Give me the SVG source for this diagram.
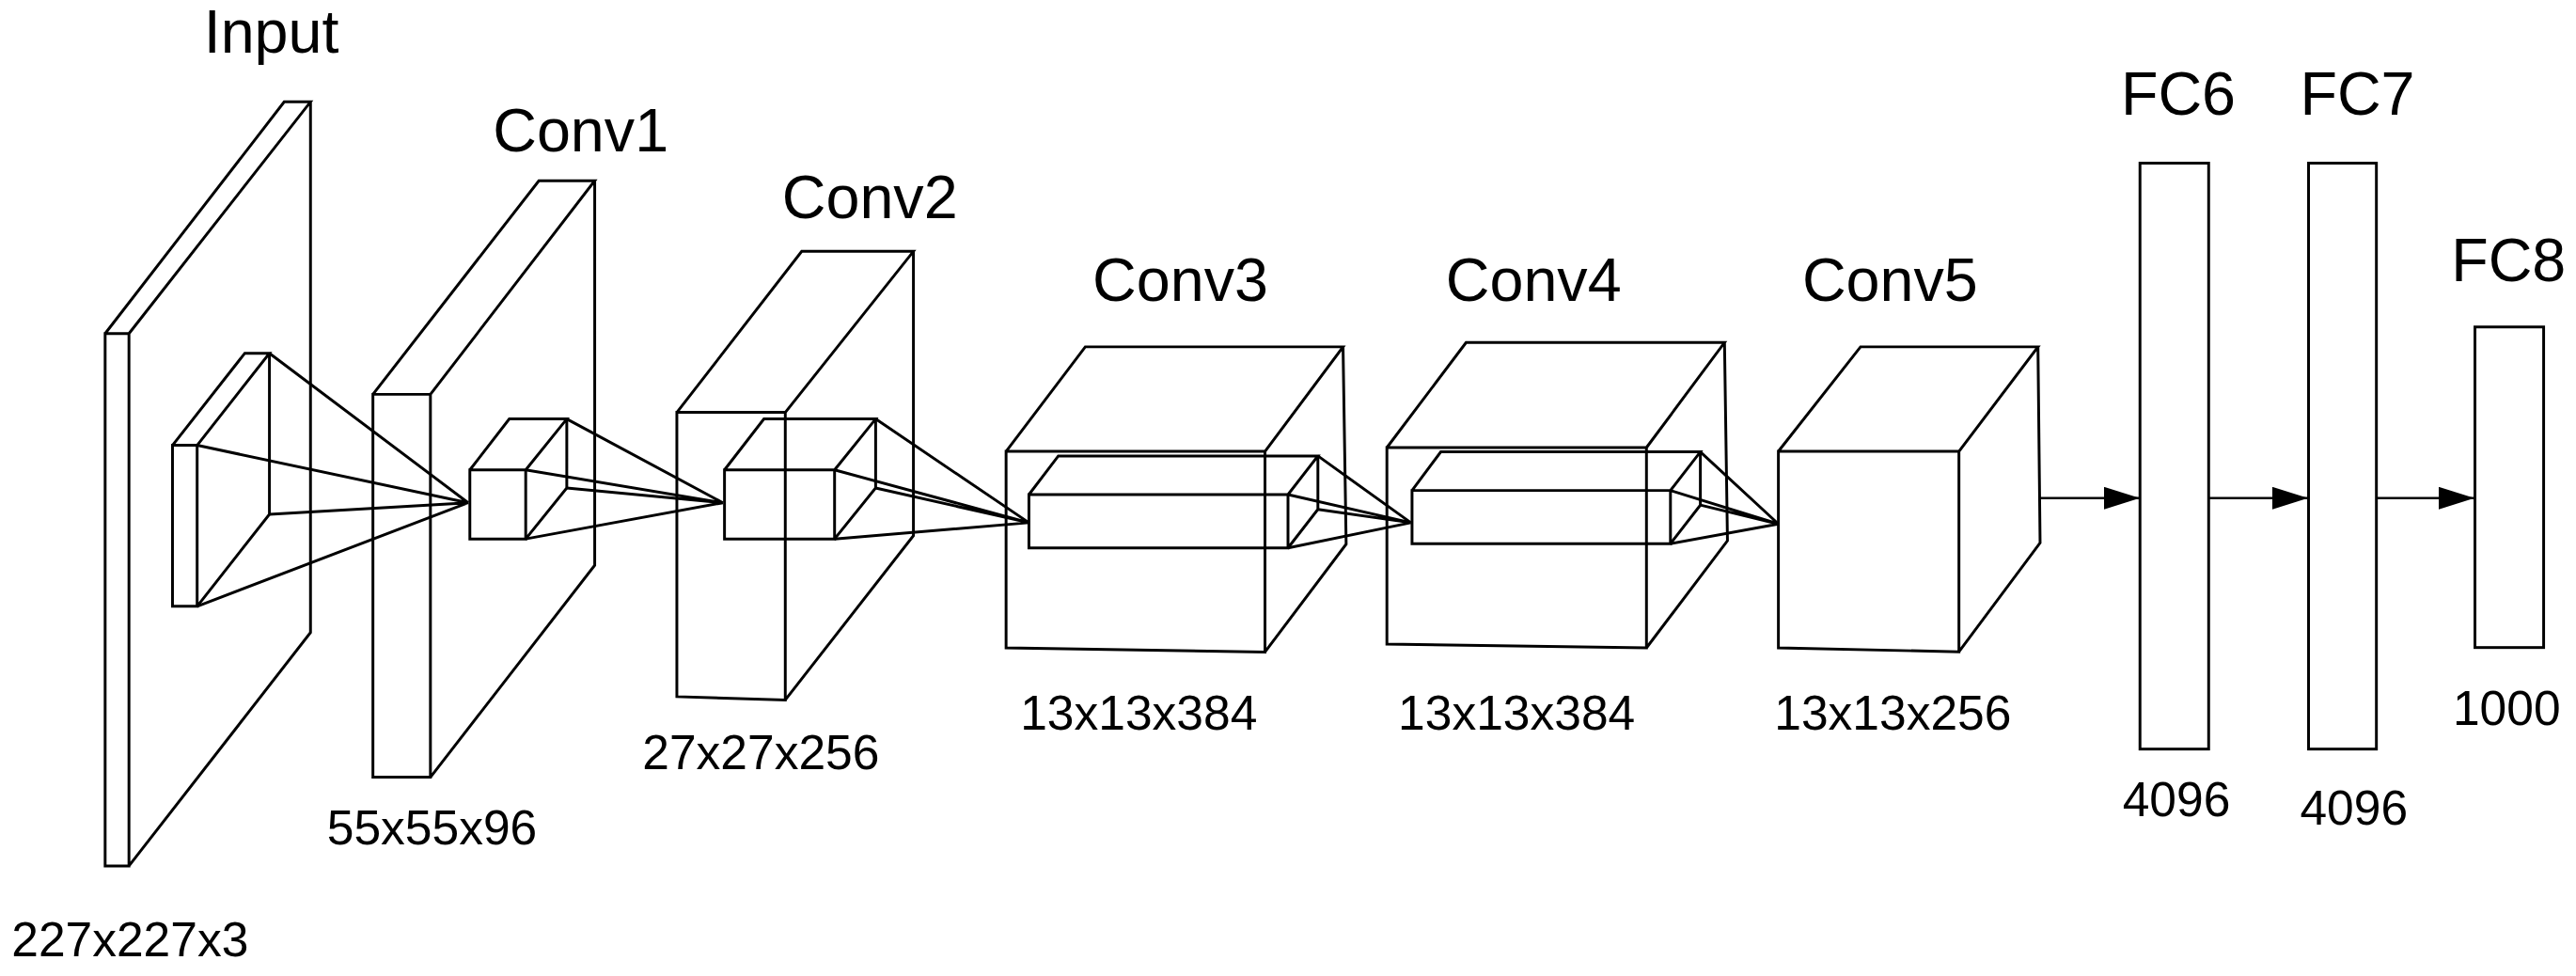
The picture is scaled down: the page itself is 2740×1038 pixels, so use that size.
<svg xmlns="http://www.w3.org/2000/svg" width="2740" height="1038" viewBox="0 0 2740 1038">
<style>
.s{fill:none;stroke:#000;stroke-width:1.7;stroke-linejoin:miter}
.t{font-family:"Liberation Sans",Arial,sans-serif;fill:#000}
.h{font-size:37px}
.d{font-size:29.5px}
.a{fill:none;stroke:#000;stroke-width:2.4}
</style>
<defs><marker id="ah" markerWidth="38" markerHeight="24" refX="38" refY="12" orient="auto" markerUnits="userSpaceOnUse"><path d="M0,0 L38,12 L0,24 Z" fill="#000"/></marker></defs>
<rect width="2740" height="1038" fill="#fff"/>
<g transform="scale(1.74745)">
<g id="input">
<path class="s" d="M64,203 H78.5 V527 H64 Z M64,203 L173,62 H189 L78.5,203 M189,62 V385 L78.5,527"/>
<path class="s" d="M105,271 H120 V369 H105 Z M105,271 L149,215 H164 L120,271 M164,215 V313 L120,369"/>
<text class="t h" x="124" y="32">Input</text>
<text class="t d" x="7" y="582">227x227x3</text>
</g>
<g id="conv1">
<path class="s" d="M227,240 H262 V473 H227 Z M227,240 L328,110 H362 L262,240 M362,110 V344 L262,473"/>
<path class="s" d="M286,286 H320 V328 H286 Z M286,286 L310,255 H345 L320,286 M345,255 V297 L320,328"/>
<text class="t h" x="300" y="92">Conv1</text>
<text class="t d" x="199" y="514">55x55x96</text>
</g>
<g id="conv2">
<path class="s" d="M412,251 H478 V426 L412,424 Z M412,251 L488,153 H556 L478,251 M556,153 V326 L478,426"/>
<path class="s" d="M441,286 H508 V328 H441 Z M441,286 L465,255 H533 L508,286 M533,255 V297 L508,328"/>
<text class="t h" x="476" y="133">Conv2</text>
<text class="t d" x="391" y="468">27x27x256</text>
</g>
<g id="conv3">
<path class="s" d="M612.4,274.7 H770 V396.8 L612.4,394.3 Z M612.4,274.7 L660.6,211.1 H817.5 L770,274.7 M817.5,211.1 L819.4,331.2 L770,396.8"/>
<path class="s" d="M626.3,301 H784 V333.5 H626.3 Z M626.3,301 L644.2,277.5 H802.2 L784,301 M802.2,277.5 V310 L784,333.5"/>
<text class="t h" x="665" y="183">Conv3</text>
<text class="t d" x="621" y="444">13x13x384</text>
</g>
<g id="conv4">
<path class="s" d="M844.2,272.4 H1002.2 V394.3 L844.2,392 Z M844.2,272.4 L892.4,208.5 H1049.7 L1002.2,272.4 M1049.7,208.5 L1051.5,329.1 L1002.2,394.3"/>
<path class="s" d="M859.5,298.5 H1016.8 V330.9 H859.5 Z M859.5,298.5 L877,275 H1035 L1016.8,298.5 M1035,275 V307.4 L1016.8,330.9"/>
<text class="t h" x="880" y="183">Conv4</text>
<text class="t d" x="851" y="444">13x13x384</text>
</g>
<g id="conv5">
<path class="s" d="M1082.5,274.7 H1192.4 V396.7 L1082.5,394.3 Z M1082.5,274.7 L1132.5,211.1 H1240.5 L1192.4,274.7 M1240.5,211.1 L1241.8,330.4 L1192.4,396.7"/>
<text class="t h" x="1097" y="183">Conv5</text>
<text class="t d" x="1080" y="444">13x13x256</text>
</g>
<g id="fc6">
<rect class="s" x="1302.6" y="99.3" width="41.8" height="356.6"/>
<text class="t h" x="1291" y="70">FC6</text>
<text class="t d" x="1292" y="497">4096</text>
</g>
<g id="fc7">
<rect class="s" x="1405.2" y="99.3" width="41.3" height="356.6"/>
<text class="t h" x="1400" y="70">FC7</text>
<text class="t d" x="1400" y="502">4096</text>
</g>
<g id="fc8">
<rect class="s" x="1506.5" y="199" width="41.8" height="195.1"/>
<text class="t h" x="1492" y="171">FC8</text>
<text class="t d" x="1493" y="441">1000</text>
</g>
<g id="connectors">
<path class="s" d="M164,215 L285,306 M120,271 L285,306 M164,313 L285,306 M120,369 L285,306"/>
<path class="s" d="M345,255 L440,306 M320,286 L440,306 M345,297 L440,306 M320,328 L440,306"/>
<path class="s" d="M533,255 L626.3,318.1 M508,286 L626.3,318.1 M533,297 L626.3,318.1 M508,328 L626.3,318.1"/>
<path class="s" d="M802.2,277.5 L858.8,318.1 M784,301 L858.8,318.1 M802.2,310 L858.8,318.1 M784,333.5 L858.8,318.1"/>
<path class="s" d="M1035,275 L1082.5,318.9 M1016.8,298.5 L1082.5,318.9 M1035,307.4 L1082.5,318.9 M1016.8,330.9 L1082.5,318.9"/>
</g>
</g>
<g id="arrows">
<line class="a" x1="2170" y1="529.8" x2="2276" y2="529.8" marker-end="url(#ah)"/>
<line class="a" x1="2349" y1="529.8" x2="2455" y2="529.8" marker-end="url(#ah)"/>
<line class="a" x1="2528" y1="529.8" x2="2632" y2="529.8" marker-end="url(#ah)"/>
</g>
</svg>
